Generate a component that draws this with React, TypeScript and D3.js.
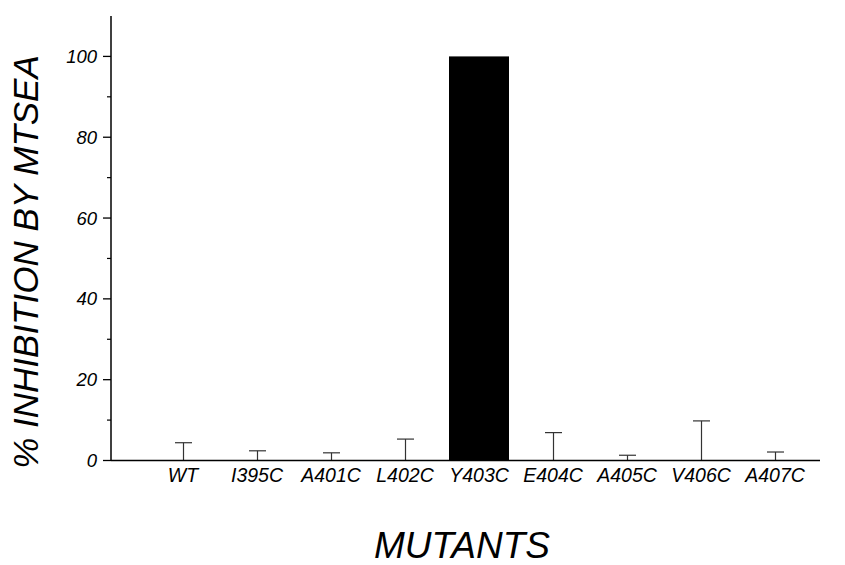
import React from "react";
import * as d3 from "d3";

// Mutant categories along the x axis
const categories = ["WT", "I395C", "A401C", "L402C", "Y403C", "E404C", "A405C", "V406C", "A407C"];
// Percent inhibition by MTSEA for each mutant
const inhibition = [0, 0, 0, 0, 100, 0, 0, 0, 0];
// Upper error (SEM) for each mutant
const errors = [4.4, 2.4, 1.9, 5.3, 0, 6.9, 1.3, 9.8, 2.1];
// Labelled y ticks
const yTicks = [0, 20, 40, 60, 80, 100];
const yMinorTicks = [10, 30, 50, 70, 90];

const W = 845;
const H = 565;
const FONT = "'Liberation Sans', Arial, Helvetica, sans-serif";

export default function App() {
  const x0 = 111;
  const x1 = 820;
  const yBase = 460.5;
  const yTop = 16;

  const x = d3.scaleBand<string>().domain(categories).range([146, 812]).paddingInner(0.19).paddingOuter(0.095);
  const y = d3.scaleLinear().domain([0, 110]).range([yBase, yTop]);
  const capW = 17;

  return (
    <svg width={W} height={H} style={{ position: "absolute", left: 0, top: 0, background: "#fff" }}>
      <rect x={0} y={0} width={W} height={H} fill="#fff" />
      {/* bars */}
      {categories.map((c, i) => {
        const cx = (x(c) as number) + x.bandwidth() / 2;
        const bw = 60;
        return inhibition[i] > 0 ? (
          <rect key={c} x={cx - bw / 2} y={y(inhibition[i])} width={bw} height={yBase - y(inhibition[i])} fill="#000" />
        ) : null;
      })}
      {/* error bars */}
      {categories.map((c, i) => {
        if (errors[i] <= 0) return null;
        const cx = Math.round((x(c) as number) + x.bandwidth() / 2) + 0.5;
        const top = y(inhibition[i] + errors[i]);
        return (
          <g key={c} stroke="#333" strokeWidth={1.2}>
            <line x1={cx} x2={cx} y1={yBase} y2={top} />
            <line x1={cx - capW / 2} x2={cx + capW / 2} y1={top} y2={top} />
          </g>
        );
      })}
      {/* axes */}
      <line x1={x0} x2={x0} y1={yTop} y2={yBase} stroke="#000" strokeWidth={1.5} />
      <line x1={x0} x2={x1} y1={yBase} y2={yBase} stroke="#000" strokeWidth={1.5} />
      {yTicks.map((t) => (
        <g key={t}>
          <line x1={x0 - 8} x2={x0} y1={y(t)} y2={y(t)} stroke="#000" strokeWidth={1.3} />
          <text x={97} y={y(t) + 6.5} textAnchor="end" fontFamily={FONT} fontStyle="italic" fontSize={18.5} fill="#000">
            {t}
          </text>
        </g>
      ))}
      {yMinorTicks.map((t) => (
        <line key={t} x1={x0 - 4} x2={x0} y1={y(t)} y2={y(t)} stroke="#000" strokeWidth={1.2} />
      ))}
      {categories.map((c) => (
        <text
          key={c}
          x={(x(c) as number) + x.bandwidth() / 2}
          y={482}
          textAnchor="middle"
          fontFamily={FONT}
          fontStyle="italic"
          fontSize={19.5}
          fill="#000"
        >
          {c}
        </text>
      ))}
      {/* axis titles */}
      <text
        transform={`translate(38,${262}) rotate(-90)`}
        textAnchor="middle"
        fontFamily={FONT}
        fontStyle="italic"
        fontSize={35}
        fill="#000"
      >
        % INHIBITION BY MTSEA
      </text>
      <text x={462} y={558} textAnchor="middle" fontFamily={FONT} fontStyle="italic" fontSize={37} fill="#000">
        MUTANTS
      </text>
    </svg>
  );
}
